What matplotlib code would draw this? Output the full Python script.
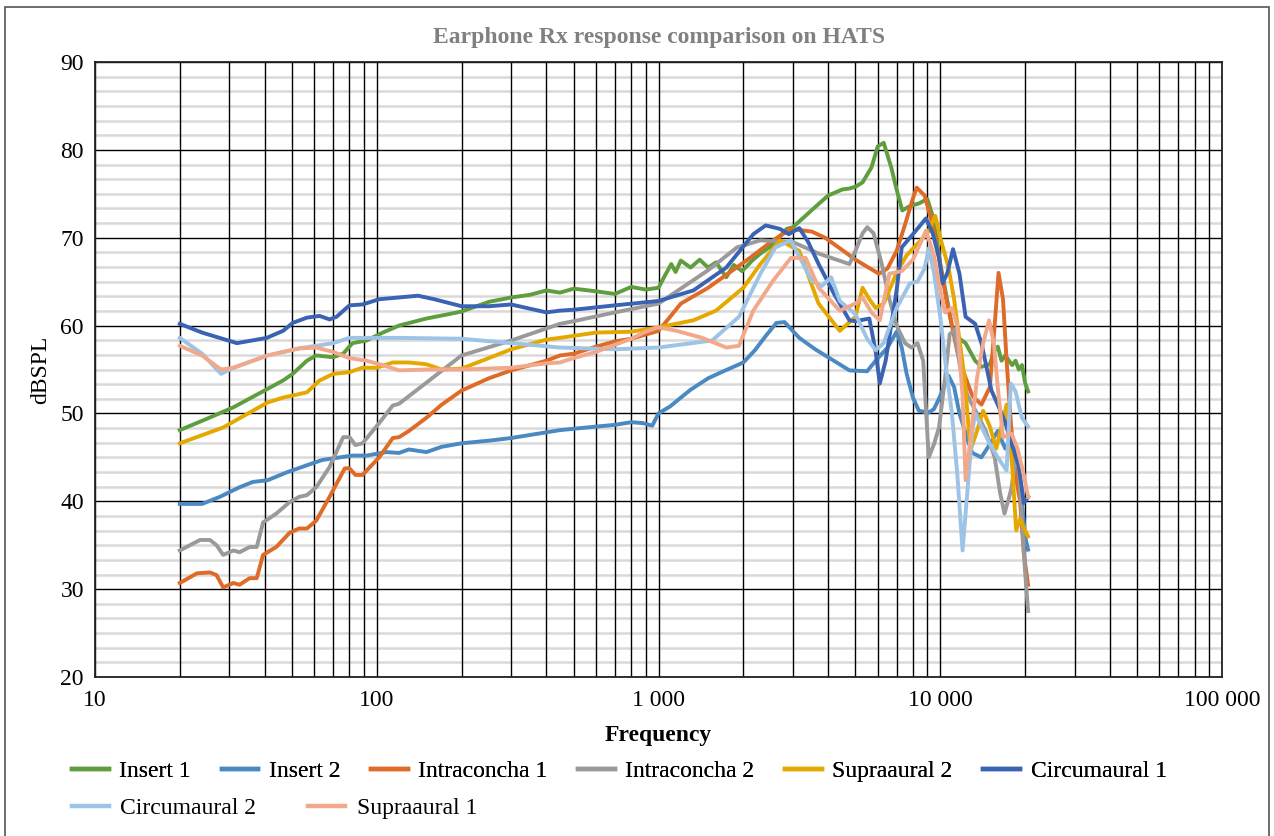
import numpy as np
import matplotlib
matplotlib.use('Agg')
import matplotlib.pyplot as plt
from matplotlib.ticker import FixedLocator, MultipleLocator, NullFormatter
from matplotlib.patches import Rectangle

plt.rcParams['font.family'] = ['Liberation Serif', 'DejaVu Serif']

# Insert 1
insert1_f = [20, 25, 31, 41, 46.5, 50.3, 56.5, 61, 70, 76, 82, 92, 105, 120, 150, 180, 200, 250, 300, 350,
             400, 447, 500, 600, 700, 800, 900, 1000, 1050, 1110, 1150, 1200, 1300, 1400, 1500, 1600, 1740,
             1850, 1980, 2150, 2300, 2500, 2850, 3000, 3300, 3600, 4000, 4500, 4760, 5000, 5300, 5700, 6000,
             6300, 6700, 7000, 7330, 7800, 8400, 9000, 9500, 10000, 10500, 11000, 11600, 12300, 13300, 14000,
             15000, 15500, 16000, 16500, 17000, 18000, 18500, 19000, 19500, 20000, 20500]
insert1_v = [48.1, 49.4, 50.7, 52.8, 53.75, 54.5, 56.0, 56.6, 56.4, 56.8, 58.0, 58.3, 59.2, 60.0, 60.8, 61.3,
             61.6, 62.7, 63.2, 63.5, 64.0, 63.75, 64.2, 63.9, 63.6, 64.4, 64.1, 64.3, 65.6, 67.0, 66.1, 67.4,
             66.6, 67.5, 66.6, 67.2, 65.5, 66.9, 66.2, 67.4, 68.2, 69.0, 71.0, 71.2, 72.4, 73.5, 74.8, 75.5,
             75.6, 75.8, 76.3, 78.0, 80.4, 80.8, 78.0, 75.5, 73.1, 73.6, 73.9, 74.4, 72.0, 67.0, 63.5, 60.0,
             58.6, 58.0, 56.0, 55.3, 55.6, 57.0, 57.6, 56.0, 56.6, 55.5, 56.0, 55.0, 55.5, 53.5, 52.5]

# Insert 2
insert2_f = [20, 24, 27.7, 32.6, 36.3, 41, 48, 56.5, 64, 74, 82, 92, 108, 120, 130, 150, 170, 200, 250, 300,
             447, 600, 700, 800, 880, 950, 1000, 1100, 1200, 1300, 1500, 1700, 2000, 2200, 2400, 2620, 2800,
             3160, 3600, 4000, 4760, 5500, 5900, 6500, 7000, 7300, 7600, 8000, 8400, 9100, 9500, 10000,
             10700, 11200, 11700, 12500, 13000, 14000, 15000, 16000, 17000, 18000, 18500, 19000, 19500,
             20000, 20500]
insert2_v = [39.7, 39.7, 40.5, 41.6, 42.2, 42.4, 43.3, 44.1, 44.7, 45.0, 45.2, 45.2, 45.6, 45.5, 45.9, 45.6,
             46.2, 46.6, 46.9, 47.2, 48.1, 48.5, 48.7, 49.0, 48.9, 48.6, 50.0, 50.8, 51.8, 52.7, 54.0, 54.8,
             55.8, 57.2, 58.8, 60.3, 60.4, 58.6, 57.3, 56.4, 54.9, 54.8, 56.0, 57.5, 59.3, 57.5, 54.5, 51.8,
             50.3, 50.1, 50.5, 52.0, 54.3, 53.0, 50.0, 47.0, 45.5, 45.0, 46.5, 48.0, 46.0, 47.5, 45.0, 43.0,
             40.0, 36.0, 34.5]

# Intraconcha 1
intra1_f = [20, 23, 25.6, 27, 28.5, 31, 32.6, 35.4, 37.5, 39.5, 44, 49, 53, 56.5, 61, 68, 77, 80, 84, 89,
            102, 114, 120, 130, 150, 170, 200, 250, 300, 400, 447, 500, 600, 700, 800, 1000, 1100, 1200,
            1500, 2050, 2550, 2950, 3500, 3900, 4400, 5000, 5500, 6060, 6500, 7000, 7500, 8000, 8250, 8800,
            9300, 10000, 10500, 11000, 11500, 12000, 13000, 14000, 15000, 15600, 16100, 16700, 17200, 17800,
            18500, 19200, 19800, 20500]
intra1_v = [30.7, 31.8, 31.9, 31.6, 30.2, 30.7, 30.5, 31.25, 31.25, 33.9, 34.8, 36.4, 36.9, 36.9, 37.8, 40.5,
            43.75, 43.75, 43.0, 43.0, 45.0, 47.2, 47.3, 48.0, 49.5, 51.0, 52.6, 54.0, 54.9, 56.0, 56.6, 56.8,
            57.6, 58.2, 58.5, 59.4, 61.0, 62.5, 64.3, 67.4, 69.7, 71.0, 70.7, 70.0, 68.8, 67.5, 66.7, 65.9,
            66.5, 68.5, 71.5, 74.5, 75.7, 74.8, 72.0, 67.0, 63.0, 60.0, 57.0, 55.0, 52.0, 51.0, 53.0, 60.0,
            66.0, 63.0, 56.0, 49.0, 43.0, 40.0, 34.0, 30.5]

# Intraconcha 2
intra2_f = [20, 23.6, 25.6, 27, 28.5, 31, 32.6, 35.4, 37.5, 39.5, 44, 49, 53, 56.5, 61, 68, 76, 80, 84, 89,
            102, 114, 120, 150, 200, 300, 447, 500, 700, 1000, 1500, 1900, 2300, 3000, 3700, 4760, 5000,
            5300, 5510, 5800, 6200, 6600, 7000, 7500, 7900, 8300, 8700, 9100, 9500, 9900, 10400, 10800,
            11200, 11800, 12500, 13500, 14500, 15600, 16300, 16900, 17400, 17900, 18500, 19000, 19500, 20000,
            20500]
intra2_v = [34.4, 35.6, 35.6, 35.0, 33.9, 34.4, 34.2, 34.8, 34.8, 37.6, 38.6, 39.9, 40.5, 40.7, 41.6, 43.9,
            47.3, 47.3, 46.4, 46.6, 48.9, 50.9, 51.1, 53.5, 56.6, 58.3, 60.2, 60.5, 61.5, 62.5, 66.3, 68.9,
            69.7, 69.5, 68.2, 67.0, 68.5, 70.5, 71.2, 70.5, 67.0, 63.0, 60.0, 58.0, 57.5, 58.0, 56.0, 45.0,
            46.5, 48.4, 54.0, 59.0, 59.5, 55.0, 52.0, 50.0, 48.0, 45.0, 41.0, 38.6, 40.0, 41.5, 45.0, 44.0,
            38.0, 32.0, 27.5]

# Supraaural 2
supra2_f = [20, 28.5, 41, 46.5, 56.5, 62.7, 70, 80, 89, 100, 114, 130, 150, 170, 200, 250, 300, 400, 447,
            600, 800, 1000, 1330, 1600, 2000, 2300, 2700, 3160, 3700, 4400, 5000, 5300, 5600, 5900, 6300,
            7000, 7600, 8300, 9000, 9600, 10000, 10700, 11200, 12200, 12800, 13500, 14200, 15000, 15800,
            17200, 18000, 18600, 19200, 19800, 20500]
supra2_v = [46.6, 48.4, 51.25, 51.8, 52.4, 53.75, 54.5, 54.7, 55.2, 55.2, 55.8, 55.8, 55.6, 55.0, 55.1, 56.3,
            57.3, 58.4, 58.6, 59.2, 59.3, 59.8, 60.6, 61.7, 64.3, 67.0, 69.7, 68.5, 62.5, 59.4, 61.0, 64.3,
            63.0, 62.0, 62.5, 66.0, 68.0, 69.3, 70.5, 72.5, 70.0, 66.6, 63.0, 54.0, 45.8, 48.0, 50.3, 48.5,
            46.0, 51.0, 44.0, 36.7, 38.0, 37.0, 36.0]

# Circumaural 1
circ1_f = [20, 24, 31.9, 40.7, 46.5, 50.3, 56.5, 62.7, 68, 72, 80, 89, 102, 120, 140, 160, 200, 250, 300,
           400, 447, 500, 700, 1000, 1330, 1740, 2170, 2400, 2700, 2900, 3160, 3400, 3700, 4200, 4760,
           5000, 5600, 5900, 6100, 6400, 7000, 7300, 8000, 8900, 9400, 9900, 10200, 10600, 11100, 11700,
           12300, 13300, 14000, 15200, 16000, 17000, 17900, 19000, 19800, 20500]
circ1_v = [60.2, 59.2, 58.0, 58.6, 59.4, 60.3, 60.9, 61.1, 60.7, 61.0, 62.3, 62.4, 63.0, 63.2, 63.4, 63.0,
           62.2, 62.2, 62.4, 61.5, 61.7, 61.8, 62.3, 62.8, 64.0, 66.6, 70.4, 71.4, 71.0, 70.4, 71.1, 69.5,
           67.0, 63.6, 60.6, 60.5, 60.8, 57.0, 53.4, 56.0, 64.0, 68.9, 70.4, 72.2, 70.5, 67.7, 64.8, 66.0,
           68.7, 65.9, 61.0, 60.2, 58.0, 52.6, 51.0, 49.0, 46.6, 44.0, 39.8, 40.5]

# Circumaural 2
circ2_f = [20, 24, 28, 31, 41, 53, 70, 80, 120, 200, 300, 447, 700, 1000, 1550, 1930, 2300, 2600, 2950,
           3500, 3800, 4100, 4400, 5000, 5500, 5900, 6300, 6600, 7000, 7800, 8300, 8800, 9100, 9500, 10000,
           10500, 11000, 11500, 12000, 12400, 13000, 13300, 14000, 15000, 16000, 17200, 17800, 18500, 19500,
           20500]
circ2_v = [58.6, 56.8, 54.5, 55.2, 56.6, 57.4, 58.0, 58.6, 58.6, 58.5, 58.0, 57.5, 57.3, 57.5, 58.3, 61.0,
           65.9, 68.9, 69.7, 65.1, 64.5, 65.5, 62.8, 61.3, 58.5, 57.2, 58.0, 59.8, 62.0, 64.8, 65.0, 66.5,
           68.8, 66.0, 61.0, 55.0, 50.0, 43.0, 34.4, 40.0, 48.0, 50.0, 48.5, 46.5, 45.0, 43.5, 53.4, 52.5,
           49.5, 48.5]

# Supraaural 1
supra1_f = [20, 24, 28, 31, 41, 53, 61, 70, 80, 92, 105, 120, 150, 200, 300, 400, 447, 500, 600, 700, 800,
            900, 1000, 1160, 1430, 1740, 1930, 2170, 2550, 2950, 3330, 3700, 4400, 5000, 5300, 5700, 6100,
            6600, 7300, 8000, 8900, 9500, 10000, 10400, 11000, 11500, 12000, 12300, 12800, 13500, 14200,
            14900, 15500, 16000, 16700, 17900, 18800, 19800, 20500]
supra1_v = [57.7, 56.6, 55.0, 55.2, 56.6, 57.4, 57.5, 57.0, 56.3, 56.0, 55.5, 54.9, 55.0, 55.0, 55.2, 55.7,
            55.8, 56.3, 57.0, 57.8, 58.5, 59.3, 59.8, 59.4, 58.6, 57.5, 57.7, 61.7, 65.1, 67.7, 67.7, 64.3,
            61.7, 62.5, 63.2, 61.5, 60.6, 65.9, 66.2, 67.5, 70.8, 68.0, 64.0, 61.5, 62.0, 60.0, 52.0, 42.4,
            47.0, 54.0, 58.0, 60.6, 58.0, 53.0, 47.3, 47.7, 46.0, 43.0, 40.5]

names = ['Insert 1', 'Insert 2', 'Intraconcha 1', 'Intraconcha 2', 'Supraaural 2',
         'Circumaural 1', 'Circumaural 2', 'Supraaural 1']
colors = ['#5f9e3e', '#4a89c2', '#de6b27', '#9a9a9a', '#e5a800', '#3a63b3', '#9dc3e6', '#f2a88b']
series = [(insert1_f, insert1_v), (insert2_f, insert2_v), (intra1_f, intra1_v), (intra2_f, intra2_v),
          (supra2_f, supra2_v), (circ1_f, circ1_v), (circ2_f, circ2_v), (supra1_f, supra1_v)]

x_ticks = [10, 100, 1000, 10000, 100000]
x_labels = ['10', '100', '1 000', '10 000', '100 000']

fig = plt.figure(figsize=(12.74, 8.36), dpi=100)
ax = fig.add_axes([95 / 1274, 1 - 677 / 836, (1222 - 95) / 1274, (677 - 62) / 836])

lines = []
for (f, v), name, c in zip(series, names, colors):
    ln, = ax.plot(f, v, color=c, lw=2.8, label=name, solid_joinstyle='round', zorder=3)
    lines.append(ln)

ax.set_xscale('log')
ax.set_xlim(10, 100000)
ax.set_ylim(20, 90)
ax.xaxis.set_major_locator(FixedLocator(x_ticks))
ax.set_xticklabels(x_labels)
ax.xaxis.set_minor_locator(FixedLocator([m * 10 ** e for e in range(1, 5) for m in range(2, 10)]))
ax.xaxis.set_minor_formatter(NullFormatter())
ax.yaxis.set_major_locator(MultipleLocator(10))
ax.yaxis.set_minor_locator(MultipleLocator(10 / 6))

ax.grid(True, which='major', axis='both', color='black', lw=1.0)
ax.grid(True, which='minor', axis='x', color='black', lw=1.0)
ax.grid(True, which='minor', axis='y', color='#d9d9d9', lw=1.8)
ax.set_axisbelow(True)
# vertical lines over the light horizontal ones
ax.yaxis.set_zorder(0.4)
ax.xaxis.set_zorder(0.6)
for s in ax.spines.values():
    s.set_color('#222222')
    s.set_linewidth(1.3)

ax.tick_params(which='both', length=0)
ax.tick_params(axis='x', labelsize=17, pad=9)
ax.tick_params(axis='y', labelsize=17, pad=8)

fig.text(0.517, 1 - 37 / 836, 'Earphone Rx response comparison on HATS', ha='center', va='center',
         fontsize=17, fontweight='bold', color='#808080')
fig.text(0.517, 1 - 735 / 836, 'Frequency', ha='center', va='center', fontsize=17, fontweight='bold')
fig.text(41 / 1274, 1 - 370 / 836, 'dBSPL', ha='center', va='center', rotation=90, fontsize=17)

leg1 = fig.legend(lines[:6], names[:6], loc='center left', bbox_to_anchor=(72 / 1274, 1 - 771 / 836),
                  ncol=6, frameon=False, fontsize=17, handlelength=1.55, handletextpad=0.45,
                  columnspacing=1.3, borderpad=0, borderaxespad=0)
for h in leg1.get_lines():
    h.set_linewidth(3.2)
leg2 = fig.legend(lines[6:], names[6:], loc='center left', bbox_to_anchor=(72 / 1274, 1 - 808 / 836),
                  ncol=2, frameon=False, fontsize=17, handlelength=1.55, handletextpad=0.5,
                  columnspacing=2.2, borderpad=0, borderaxespad=0)
for h in leg2.get_lines():
    h.set_linewidth(3.2)
fig.add_artist(leg1)

fig.patches.append(Rectangle((5 / 1274, -0.01), 1264 / 1274, 1 - 7 / 836 + 0.01, transform=fig.transFigure,
                             fill=False, edgecolor='#555555', lw=1.2))

fig.savefig('out.png', dpi=100)
